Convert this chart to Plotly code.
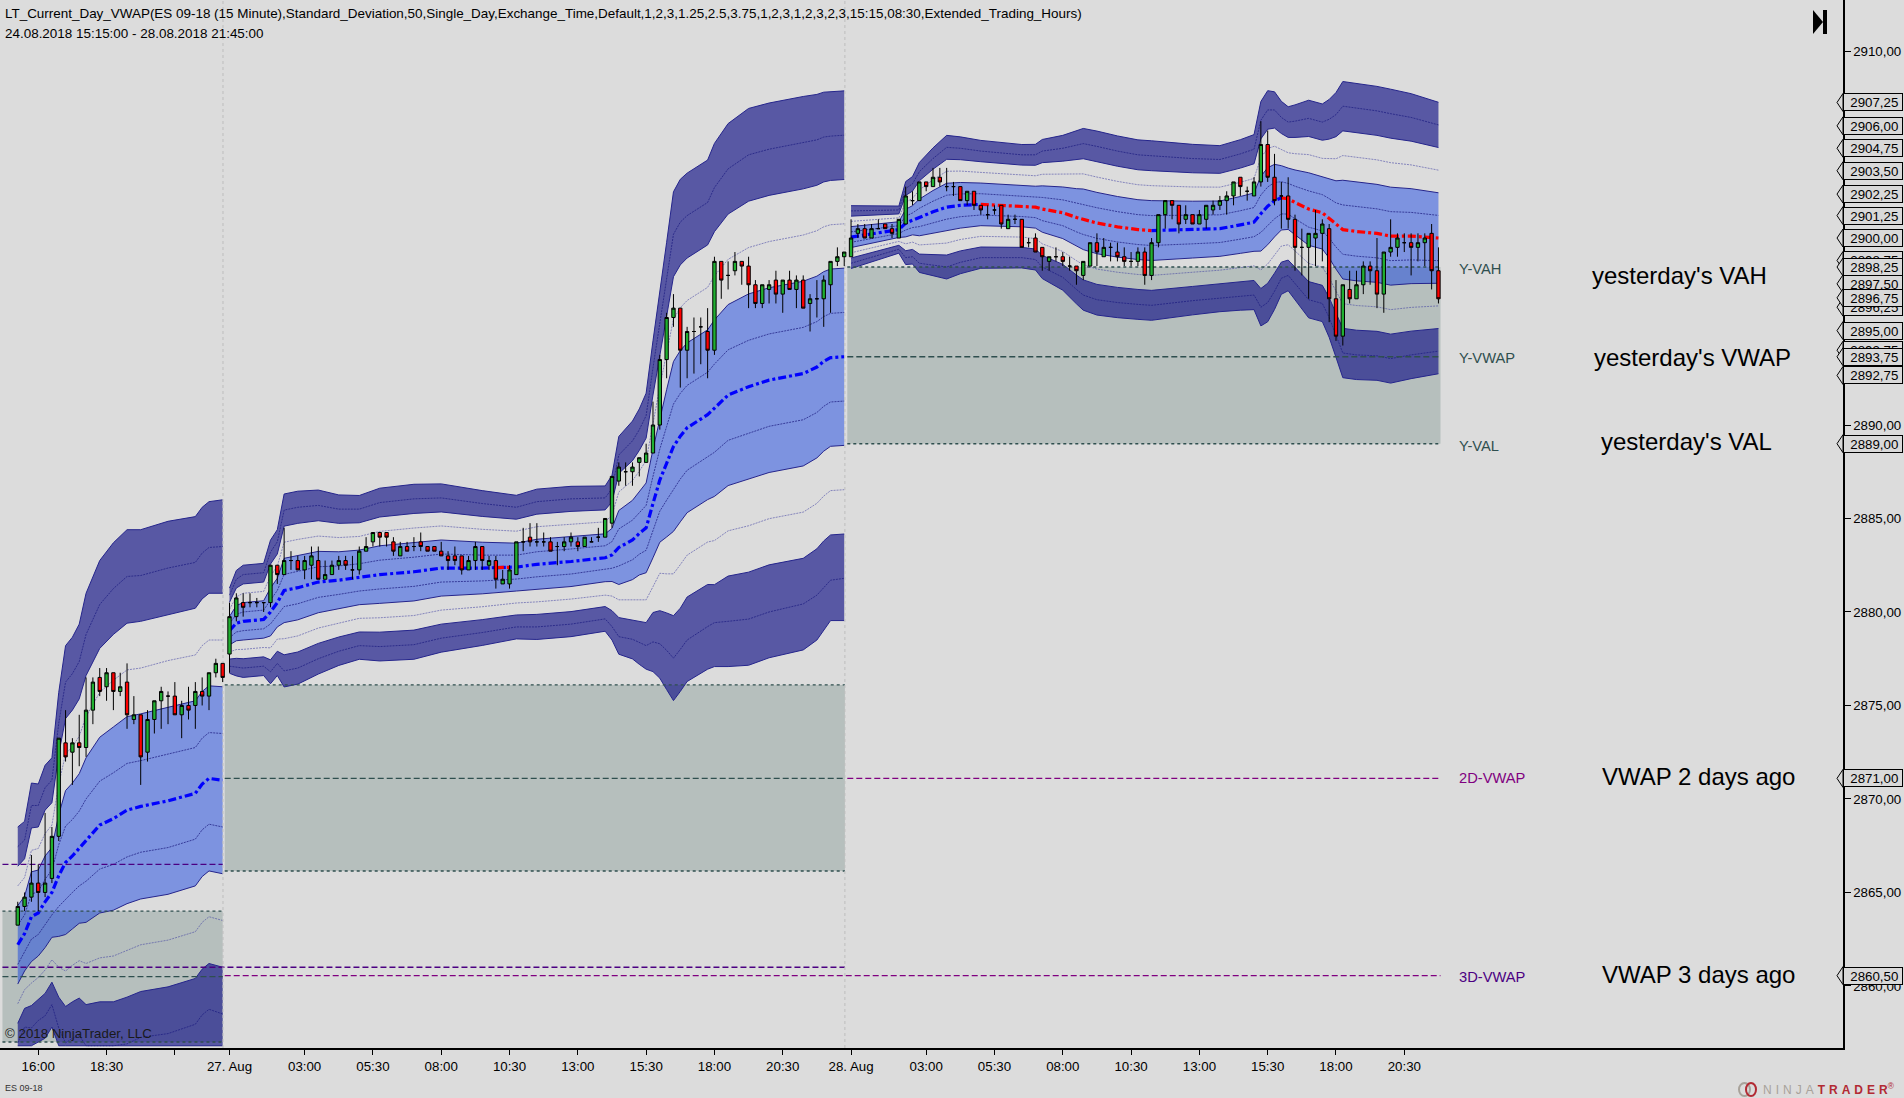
import plotly.graph_objects as go

opens = [2863.25,2864.25,2864.75,2865.5,2865,2865.75,2868,2873,2872.5,2873,
2872.75,2874.75,2876.5,2876,2876.75,2875.75,2876.25,2874.25,2874.5,2872.5,
2874.25,2875.25,2875.5,2875.5,2874.5,2875,2875,2875.75,2875.5,2876.75,2877.25,
2877.75,2879.75,2880.5,2880.5,2880.5,2880.5,2880.5,2882.5,2882,2882.75,
2882.75,2882.25,2882.5,2882.75,2881.75,2882,2882.5,2882.75,2882.25,2882.25,
2883.25,2883.75,2884.25,2884.25,2883.75,2883,2883.5,2883.5,2883.75,2883.5,
2883.5,2883.25,2883,2883,2883,2882.25,2882.75,2883.5,2882.5,2882.75,
2881.5,2881.5,2882,2883.75,2884,2883.75,2883.75,2883.75,2883.5,2883.5,
2883.75,2883.75,2883.5,2883.75,2884,2884,2884.75,2887,2887.5,2887.5,
2888,2888,2888.5,2890,2893.5,2895.75,2896.25,2894,2895,2895.25,
2895,2894,2898.75,2898,2898.25,2898.75,2898.5,2897.5,2896.5,2897.25,
2897.75,2897,2897.75,2897.25,2897.75,2896.5,2896.75,2896.75,2897.5,2898.75,2899,
2899,2900.25,2900.5,2900,2900.5,2900.75,2900.5,2900,2900.75,2902,
2902,2903,2902.75,2903.25,2902.75,2902.75,2902.75,2902,2902.5,2901.75,
2901.25,2901.5,2901.75,2900.5,2901,2901,2899.75,2900,2899.5,2898.75,
2899,2899,2898.5,2898.5,2898,2898.5,2899.75,2899,2899.5,2899.25,
2899,2898.75,2898.75,2899.25,2898,2899.75,2901.25,2902,2901.75,2901,
2901.25,2900.75,2901,2901.5,2901.75,2902,2902.25,2903.25,2902.5,2902.25,
2903,2905,2903.25,2902.25,2902.25,2901,2899.5,2899.5,2900,2900.25,
2900.5,2896.75,2894.75,2897.25,2896.75,2897.5,2898.5,2898.25,2897,2899.25,
2899.5,2899.75,2899.75,2899.5,2899.75,2900.25,2898.25]
highs = [2864.5,2865,2867,2866.5,2869.25,2868.5,2873.25,2874.75,2873.25,2874.5,
2876.5,2876.5,2877,2877,2876.75,2876.75,2877.25,2875.5,2874.5,2874.75,
2875.25,2876,2875.75,2876.25,2875.25,2876,2876.25,2876.5,2876.75,2877.5,2877.25,
2880.5,2881,2881,2881,2880.75,2880.5,2882.5,2882.5,2884.5,2883.25,
2883,2883,2883.5,2883.5,2882.75,2882.75,2883,2883,2883,2883.5,
2884,2884.25,2884.25,2884.25,2884,2883.75,2883.75,2884,2884.25,2883.5,
2883.5,2883.75,2883.25,2883.5,2883,2883,2883.75,2883.5,2883,2883,
2882.25,2882.5,2883.75,2884.5,2884.75,2884.75,2884.25,2884,2883.75,2884,
2884.25,2884,2884,2884,2884.5,2885,2887.25,2888,2888,2888,
2888.25,2889,2891.25,2893.75,2896,2897,2896.25,2895.25,2895.75,2895.75,
2896.25,2899,2898.75,2898.75,2899.25,2898.75,2899,2897.75,2897.5,2897.75,
2898.25,2897.75,2898.25,2898,2898,2897,2897.75,2898,2898.75,2899.5,2899.25,
2901,2900.75,2900.75,2900.75,2901,2900.75,2900.75,2901,2902.75,2902.5,
2903,2903,2903.75,2903.75,2903.75,2903,2902.75,2902.5,2902.5,2901.75,
2901.75,2901.75,2901.75,2901.25,2901.25,2901,2900,2900.25,2899.5,2899,
2899.5,2899.25,2899,2898.5,2898.75,2899.75,2900.25,2900,2899.75,2899.75,
2899.5,2899.25,2899.5,2899.5,2900,2901.25,2902,2902,2901.75,2901.75,
2901.25,2901.5,2901.75,2902,2902.25,2902.5,2903,2903.25,2902.75,2903.25,
2906.25,2905.75,2904.5,2903,2903.25,2901.25,2900.5,2900.25,2901.5,2901,
2900.75,2897.75,2897.5,2898.25,2898.25,2898.75,2898.75,2900,2899.25,2901,
2900.25,2900.25,2900.25,2900.25,2900.25,2900.75,2899.5]
lows = [2863.25,2864,2864.5,2864,2864.75,2865.5,2867.75,2872,2870.75,2871.75,
2872.25,2874,2875.5,2875.25,2874.75,2875.5,2873.75,2874,2870.75,2872,
2873.5,2873.75,2874,2874.5,2873.25,2874.25,2873.75,2875,2874.75,2876.5,2876.25,
2876.75,2879.5,2879.75,2880.25,2880.25,2880,2880.25,2881.5,2882,2882.25,
2882.25,2881.75,2881.75,2881.75,2881.75,2882,2882.25,2882.25,2881.75,2882,
2883.25,2883.5,2883.5,2883.5,2883,2883,2883.25,2883.25,2883.25,2883.25,
2883.25,2883,2882.25,2882.5,2882,2882.25,2882.25,2882.25,2882.25,2881.25,
2881.5,2881.25,2882,2883.25,2883.5,2883.5,2883.5,2883.25,2882.5,2883.25,
2883.5,2883.25,2883.5,2883.75,2883.75,2884,2884.5,2886.75,2886.75,2886.75,
2887.25,2888,2888.5,2889.75,2892.5,2895.25,2892,2892.5,2892.75,2893.25,
2892.5,2893.75,2896.75,2897.25,2898,2897.5,2896.25,2896.25,2896.25,2896.5,
2896.5,2896,2897.25,2896.25,2896.25,2895,2895.75,2895.25,2896,2898.5,2898.5,
2899,2900,2900,2900,2900.5,2900.5,2900,2900,2900.75,2901.75,
2902,2902.5,2902.75,2902.75,2902.5,2902.25,2902,2901.75,2901.5,2901.25,
2901,2901.25,2900.5,2900.5,2900.75,2899.5,2899.5,2899.25,2898.25,2898.25,
2898.75,2898.5,2898.25,2897.5,2897.75,2898.5,2898.5,2899,2898.75,2898.75,
2898.5,2898.5,2898.5,2897.5,2897.75,2899.5,2900.5,2901,2900.25,2900.75,
2900.75,2900.75,2900.5,2901.25,2901.5,2901.25,2901.75,2902.25,2902,2902.25,
2902.75,2903,2901.75,2900.5,2900.5,2898.25,2898,2896.75,2898.5,2898.75,
2895.5,2894.5,2894.25,2896.5,2896.75,2897,2897.5,2896.25,2896,2899,
2899,2899.25,2898,2898.75,2898.5,2897.25,2896.5]
closes = [2864.25,2864.75,2865.5,2865,2865.5,2868,2873.25,2872.25,2873,2872.75,
2874.75,2876.25,2875.75,2876.75,2875.75,2876,2874.5,2874.5,2872.25,2874.25,
2875.25,2875.75,2875.5,2874.5,2875,2874.75,2875.75,2875.5,2876.75,2877.25,2876.5,
2879.75,2880.75,2880.25,2880.5,2880.5,2880.5,2882.5,2882,2882.75,2882.75,
2882.25,2882.75,2883,2881.75,2882,2882.5,2882.75,2882.5,2882.25,2883.25,
2883.5,2884.25,2884,2884,2883.25,2883.5,2883.25,2883.5,2883.5,2883.25,
2883.25,2883,2882.75,2882.75,2882.25,2882.75,2883.5,2882.75,2882.75,2881.75,
2881.75,2882.25,2883.75,2883.75,2883.75,2883.75,2883.75,2883.25,2883.5,2883.75,
2884,2883.5,2884,2883.75,2884,2885,2887.25,2887.75,2887.5,2887.75,
2888.25,2888.5,2890,2893.5,2895.75,2896.25,2894,2895,2895,2895.25,
2894,2898.75,2897.75,2898,2898.75,2898.5,2897.5,2896.5,2897.5,2897.5,
2897,2897.75,2897.25,2897.75,2896.25,2896.75,2896.75,2897.75,2898.75,2899,2899.25,
2900,2900.5,2900,2900.5,2900.5,2900.5,2900.25,2901,2902.25,2902,
2903,2902.75,2903.25,2903,2902.75,2902.75,2902,2902.5,2901.75,2901.5,
2901.25,2901.5,2900.75,2901,2901,2899.5,2899.75,2899.25,2899,2899,
2899,2898.75,2898.5,2898.25,2898.75,2899.75,2899.25,2899.5,2899.5,2899,
2898.75,2898.75,2899.25,2898,2899.75,2901.25,2902,2901.75,2900.75,2901.25,
2900.75,2901.25,2901.75,2901.75,2902,2902.25,2903,2902.75,2902.5,2903,
2905,2903.25,2902,2902.25,2901,2899.5,2899.5,2900.25,2900.25,2900.75,
2896.75,2894.75,2897.5,2896.75,2897.5,2898.5,2898.25,2897,2899.25,2899.5,
2900,2899.75,2899.5,2899.75,2900,2898.25,2896.75]

# session 1: 24 Aug
s1_i = [0,1,2,3,4,5,6,7,8,9,10,12,14,16,18,22,26,27,28,30]
s1_v = [2862.2,2862.8,2863.7,2863.9,2864.5,2865,2865.9,2866.6,2866.95,2867.35,2867.8,2868.6,2868.95,2869.4,2869.6,2869.9,2870.3,2870.8,2871.1,2871]
s1_u1 = [2863.25,2863.8,2864.9,2865.05,2865.7,2866.2,2867.55,2868.55,2868.9,2869.35,2870,2870.95,2871.4,2871.9,2872.05,2872.4,2872.75,2873.25,2873.55,2873.5]
s1_u2 = [2864.3,2864.8,2866.1,2866.2,2866.95,2867.4,2869.15,2870.45,2870.85,2871.35,2872.2,2873.3,2873.85,2874.4,2874.55,2874.9,2875.25,2875.75,2876.05,2876]
s1_u3 = [2865.35,2865.8,2867.25,2867.35,2868.15,2868.6,2870.8,2872.4,2872.8,2873.35,2874.4,2875.7,2876.35,2876.9,2877,2877.4,2877.7,2878.2,2878.5,2878.5]
s1_u4 = [2866.4,2866.8,2868.45,2868.5,2869.4,2869.8,2872.4,2874.3,2874.75,2875.35,2876.6,2878.05,2878.8,2879.4,2879.5,2879.85,2880.2,2880.7,2881,2881]
s1_u5 = [2867.45,2867.8,2869.65,2869.65,2870.6,2871,2874.05,2876.25,2876.7,2877.35,2878.8,2880.4,2881.25,2881.9,2881.95,2882.35,2882.65,2883.15,2883.45,2883.5]
s1_u6 = [2868.5,2868.8,2870.85,2870.8,2871.8,2872.2,2875.7,2878.2,2878.65,2879.35,2881,2882.75,2883.7,2884.4,2884.4,2884.85,2885.1,2885.6,2885.9,2886]
s1_l1 = [2861.15,2861.8,2862.5,2862.75,2863.3,2863.8,2864.25,2864.65,2865,2865.35,2865.6,2866.25,2866.5,2866.9,2867.15,2867.4,2867.85,2868.35,2868.65,2868.5]
s1_l2 = [2860.1,2860.8,2861.3,2861.6,2862.05,2862.6,2862.65,2862.75,2863.05,2863.35,2863.4,2863.9,2864.05,2864.4,2864.65,2864.9,2865.35,2865.85,2866.15,2866]
s1_l3 = [2859.05,2859.8,2860.15,2860.45,2860.85,2861.4,2861,2860.8,2861.1,2861.35,2861.2,2861.5,2861.6,2861.9,2862.2,2862.45,2862.9,2863.4,2863.7,2863.5]
s1_l4 = [2858,2858.8,2858.95,2859.3,2859.6,2860.2,2859.4,2858.9,2859.15,2859.35,2859,2859.15,2859.15,2859.4,2859.7,2859.95,2860.4,2860.9,2861.2,2861]
s1_l5 = [2856.95,2857.8,2857.75,2858.15,2858.4,2859,2857.75,2856.95,2857.2,2857.35,2856.8,2856.8,2856.8,2856.9,2857.25,2857.45,2857.95,2858.45,2858.75,2858.5]
s1_l6 = [2856.8,2856.8,2856.8,2857,2857.2,2857.8,2856.8,2856.8,2856.8,2856.8,2856.8,2856.8,2856.8,2856.8,2856.8,2856.8,2856.8,2856.8,2856.8,2856.8]

# session 2: 27 Aug
s2_i = [31,32,33,36,37,38,39,41,44,47,50,53,58,62,68,73,76,81,86,87,88,90,91,92,93,94,95,96,97,98,101,102,104,107,110,115,117,118,119,121]
s2_v = [2879,2879.4,2879.5,2879.6,2880,2880.5,2881.15,2881.3,2881.6,2881.7,2881.85,2882,2882.15,2882.35,2882.35,2882.4,2882.55,2882.7,2882.9,2883.05,2883.45,2883.85,2884.2,2884.5,2885.8,2887.05,2887.95,2888.85,2889.4,2889.85,2890.55,2890.9,2891.6,2892.05,2892.4,2892.75,2893.1,2893.4,2893.6,2893.65]
s2_u1 = [2879.38,2879.87,2880,2880.1,2880.64,2881.15,2882.01,2882.16,2882.42,2882.46,2882.58,2882.77,2882.93,2883.1,2883.04,2883.04,2883.22,2883.37,2883.54,2883.76,2884.44,2884.91,2885.31,2885.7,2887.25,2888.71,2889.92,2891.12,2891.69,2892.12,2892.82,2893.26,2894.02,2894.53,2894.87,2895.22,2895.53,2895.8,2895.97,2896.02]
s2_u2 = [2879.76,2880.34,2880.5,2880.6,2881.28,2881.8,2882.87,2883.02,2883.24,2883.22,2883.31,2883.54,2883.71,2883.85,2883.73,2883.68,2883.89,2884.04,2884.18,2884.47,2885.43,2885.97,2886.42,2886.9,2888.7,2890.37,2891.89,2893.39,2893.98,2894.39,2895.09,2895.62,2896.44,2897.01,2897.34,2897.69,2897.96,2898.2,2898.34,2898.39]
s2_u3 = [2880.14,2880.81,2881,2881.1,2881.92,2882.45,2883.73,2883.88,2884.06,2883.98,2884.04,2884.31,2884.49,2884.6,2884.42,2884.32,2884.56,2884.71,2884.82,2885.18,2886.42,2887.03,2887.53,2888.1,2890.15,2892.03,2893.86,2895.66,2896.27,2896.66,2897.36,2897.98,2898.86,2899.49,2899.81,2900.16,2900.39,2900.6,2900.71,2900.76]
s2_u4 = [2880.52,2881.28,2881.5,2881.6,2882.56,2883.1,2884.59,2884.74,2884.88,2884.74,2884.77,2885.08,2885.27,2885.35,2885.11,2884.96,2885.23,2885.38,2885.46,2885.89,2887.41,2888.09,2888.64,2889.3,2891.6,2893.69,2895.83,2897.93,2898.56,2898.93,2899.63,2900.34,2901.28,2901.97,2902.28,2902.63,2902.82,2903,2903.08,2903.13]
s2_u5 = [2880.9,2881.75,2882,2882.1,2883.2,2883.75,2885.45,2885.6,2885.7,2885.5,2885.5,2885.85,2886.05,2886.1,2885.8,2885.6,2885.9,2886.05,2886.1,2886.6,2888.4,2889.15,2889.75,2890.5,2893.05,2895.35,2897.8,2900.2,2900.85,2901.2,2901.9,2902.7,2903.7,2904.45,2904.75,2905.1,2905.25,2905.4,2905.45,2905.5]
s2_u6 = [2881.28,2882.22,2882.5,2882.6,2883.84,2884.4,2886.31,2886.46,2886.52,2886.26,2886.23,2886.62,2886.83,2886.85,2886.49,2886.24,2886.57,2886.72,2886.74,2887.31,2889.39,2890.21,2890.86,2891.7,2894.5,2897.01,2899.77,2902.47,2903.14,2903.47,2904.17,2905.06,2906.12,2906.93,2907.22,2907.57,2907.68,2907.8,2907.82,2907.87]
s2_l1 = [2878.62,2878.93,2879,2879.1,2879.36,2879.85,2880.29,2880.44,2880.78,2880.94,2881.12,2881.23,2881.37,2881.6,2881.66,2881.76,2881.88,2882.03,2882.26,2882.34,2882.46,2882.79,2883.09,2883.3,2884.35,2885.39,2885.98,2886.58,2887.11,2887.58,2888.28,2888.54,2889.18,2889.57,2889.93,2890.28,2890.67,2891,2891.23,2891.28]
s2_l2 = [2878.24,2878.46,2878.5,2878.6,2878.72,2879.2,2879.43,2879.58,2879.96,2880.18,2880.39,2880.46,2880.59,2880.85,2880.97,2881.12,2881.21,2881.36,2881.62,2881.63,2881.47,2881.73,2881.98,2882.1,2882.9,2883.73,2884.01,2884.31,2884.82,2885.31,2886.01,2886.18,2886.76,2887.09,2887.46,2887.81,2888.24,2888.6,2888.86,2888.91]
s2_l3 = [2877.86,2877.99,2878,2878.1,2878.08,2878.55,2878.57,2878.72,2879.14,2879.42,2879.66,2879.69,2879.81,2880.1,2880.28,2880.48,2880.54,2880.69,2880.9,2880.85,2880.65,2880.65,2880.65,2880.65,2881.35,2882.07,2882.04,2882.04,2882.53,2883.04,2883.74,2883.82,2884.34,2884.61,2884.99,2885.34,2885.81,2886.2,2886.49,2886.54]
s2_l4 = [2877.48,2877.52,2877.5,2877.6,2877.44,2877.9,2877.71,2877.86,2878.32,2878.66,2878.93,2878.92,2879.03,2879.35,2879.59,2879.84,2879.87,2880.02,2880.29,2880.07,2879.7,2879.58,2879.5,2879.43,2879.97,2880.07,2879.95,2879.8,2880.2,2880.8,2881.47,2881.46,2881.92,2882.13,2882.52,2882.87,2883.38,2883.8,2884.12,2884.17]
s2_l5 = [2877.1,2877.05,2877,2877.1,2876.8,2877.25,2876.85,2877,2877.5,2877.9,2878.2,2878.15,2878.25,2878.6,2878.9,2879.2,2879.2,2879.35,2879.63,2879.22,2878.68,2878.54,2878.37,2878.2,2878.4,2878.3,2877.95,2877.53,2878,2878.5,2879.22,2879.43,2879.5,2879.62,2880,2880.43,2880.9,2881.3,2881.7,2881.8]
s2_l6 = [2876.72,2876.58,2876.5,2876.6,2876.16,2876.6,2875.99,2876.14,2876.68,2877.14,2877.47,2877.38,2877.47,2877.85,2878.21,2878.56,2878.53,2878.68,2878.97,2878.5,2877.74,2877.49,2877.2,2876.94,2876.81,2876.46,2875.85,2875.26,2875.75,2876.28,2876.94,2877.08,2877.08,2877.15,2877.55,2877.97,2878.5,2879,2879.54,2879.54]
s2_red_i = [70,72]
s2_red_v = [2882.37,2882.39]

# session 3: 28 Aug
s3_i = [122,126,129,130,131,132,134,136,138,141,147,149,150,153,155,156,158,161,164,166,172,176,179,181,182,183,184,185,186,187,189,191,192,193,194,196,199,201,204,208]
s3_v = [2900.05,2900.3,2900.45,2900.8,2900.95,2901.1,2901.4,2901.65,2901.75,2901.8,2901.7,2901.65,2901.55,2901.35,2901.1,2901,2900.8,2900.6,2900.45,2900.4,2900.45,2900.5,2900.7,2900.85,2901.3,2901.7,2902,2902.15,2902.1,2901.9,2901.55,2901.35,2901.05,2900.7,2900.45,2900.35,2900.25,2900.1,2900.1,2900]
s3_u1 = [2900.33,2900.54,2900.66,2901.17,2901.34,2901.59,2901.97,2902.29,2902.36,2902.37,2902.25,2902.21,2902.17,2902.04,2901.87,2901.81,2901.62,2901.41,2901.25,2901.2,2901.21,2901.24,2901.46,2901.63,2902.3,2902.73,2902.97,2903.01,2902.92,2902.77,2902.52,2902.32,2902.11,2901.88,2901.77,2901.67,2901.56,2901.41,2901.37,2901.21]
s3_u2 = [2900.61,2900.78,2900.87,2901.54,2901.73,2902.08,2902.54,2902.93,2902.97,2902.94,2902.8,2902.77,2902.79,2902.73,2902.64,2902.62,2902.44,2902.22,2902.05,2902,2901.97,2901.98,2902.22,2902.41,2903.3,2903.76,2903.94,2903.87,2903.74,2903.64,2903.49,2903.29,2903.17,2903.06,2903.09,2902.99,2902.87,2902.72,2902.64,2902.42]
s3_u3 = [2900.89,2901.02,2901.08,2901.91,2902.12,2902.57,2903.11,2903.57,2903.58,2903.51,2903.35,2903.33,2903.41,2903.42,2903.41,2903.43,2903.26,2903.03,2902.85,2902.8,2902.73,2902.72,2902.98,2903.19,2904.3,2904.79,2904.91,2904.73,2904.56,2904.51,2904.46,2904.26,2904.23,2904.24,2904.41,2904.31,2904.18,2904.03,2903.91,2903.63]
s3_u4 = [2901.17,2901.26,2901.29,2902.28,2902.51,2903.06,2903.68,2904.21,2904.19,2904.08,2903.9,2903.89,2904.03,2904.11,2904.18,2904.24,2904.08,2903.84,2903.65,2903.6,2903.49,2903.46,2903.74,2903.97,2905.3,2905.82,2905.88,2905.59,2905.38,2905.38,2905.43,2905.23,2905.29,2905.42,2905.73,2905.63,2905.49,2905.34,2905.18,2904.84]
s3_u5 = [2901.45,2901.5,2901.5,2902.65,2902.9,2903.55,2904.25,2904.85,2904.8,2904.65,2904.45,2904.45,2904.65,2904.8,2904.95,2905.05,2904.9,2904.65,2904.45,2904.4,2904.25,2904.2,2904.5,2904.75,2906.3,2906.85,2906.85,2906.45,2906.2,2906.25,2906.4,2906.2,2906.35,2906.6,2907.05,2906.95,2906.8,2906.65,2906.45,2906.05]
s3_u6 = [2901.73,2901.74,2901.71,2903.02,2903.29,2904.04,2904.82,2905.49,2905.41,2905.22,2905,2905.01,2905.27,2905.49,2905.72,2905.86,2905.72,2905.46,2905.25,2905.2,2905.01,2904.94,2905.26,2905.53,2907.3,2907.88,2907.82,2907.31,2907.02,2907.12,2907.37,2907.17,2907.41,2907.78,2908.37,2908.27,2908.11,2907.96,2907.72,2907.26]
s3_l1 = [2899.77,2900.06,2900.24,2900.43,2900.56,2900.61,2900.83,2901.01,2901.14,2901.23,2901.15,2901.09,2900.93,2900.66,2900.33,2900.19,2899.98,2899.79,2899.65,2899.6,2899.69,2899.76,2899.94,2900.07,2900.3,2900.67,2901.03,2901.29,2901.28,2901.03,2900.58,2900.38,2899.99,2899.52,2899.13,2899.03,2898.94,2898.79,2898.83,2898.79]
s3_l2 = [2899.49,2899.82,2900.03,2900.06,2900.17,2900.12,2900.26,2900.37,2900.53,2900.66,2900.6,2900.53,2900.31,2899.97,2899.56,2899.38,2899.16,2898.98,2898.85,2898.8,2898.93,2899.02,2899.18,2899.29,2899.3,2899.64,2900.06,2900.43,2900.46,2900.16,2899.61,2899.41,2898.93,2898.34,2897.81,2897.71,2897.63,2897.48,2897.56,2897.58]
s3_l3 = [2899.21,2899.58,2899.82,2899.69,2899.78,2899.63,2899.69,2899.73,2899.92,2900.09,2900.05,2899.97,2899.69,2899.28,2898.79,2898.57,2898.34,2898.17,2898.05,2898,2898.17,2898.28,2898.42,2898.51,2898.3,2898.61,2899.09,2899.57,2899.64,2899.29,2898.64,2898.44,2897.87,2897.16,2896.49,2896.39,2896.32,2896.17,2896.29,2896.37]
s3_l4 = [2898.93,2899.34,2899.61,2899.32,2899.39,2899.14,2899.12,2899.09,2899.31,2899.52,2899.5,2899.41,2899.07,2898.59,2898.02,2897.76,2897.52,2897.36,2897.25,2897.2,2897.41,2897.54,2897.66,2897.73,2897.3,2897.58,2898.12,2898.71,2898.82,2898.42,2897.67,2897.47,2896.81,2895.98,2895.17,2895.07,2895.01,2894.86,2895.02,2895.16]
s3_l5 = [2898.65,2899.1,2899.4,2898.95,2899,2898.65,2898.55,2898.45,2898.7,2898.95,2898.95,2898.85,2898.45,2897.9,2897.25,2896.95,2896.7,2896.55,2896.45,2896.4,2896.65,2896.8,2896.9,2896.95,2896.3,2896.55,2897.15,2897.85,2898,2897.55,2896.7,2896.5,2895.75,2894.8,2893.85,2893.75,2893.7,2893.55,2893.75,2893.95]
s3_l6 = [2898.37,2898.86,2899.19,2898.58,2898.61,2898.16,2897.98,2897.81,2898.09,2898.38,2898.4,2898.29,2897.83,2897.21,2896.48,2896.14,2895.88,2895.74,2895.65,2895.6,2895.89,2896.06,2896.14,2896.17,2895.3,2895.52,2896.18,2896.99,2897.18,2896.68,2895.73,2895.53,2894.69,2893.62,2892.53,2892.43,2892.39,2892.24,2892.48,2892.74]

# value-area zones of the previous day
zone_start = [-2.24, 30.3, 121.45]
zone_end = [30.0, 121.1, 208.3]
zone_val = [2857.0, 2866.15, 2889.0]
zone_vwap = [2860.5, 2871.1, 2893.65]
zone_vah = [2864.0, 2876.1, 2898.45]

# older VWAP levels
older_start = [-2.24, -2.24, 30.3, 121.45]
older_end = [30.0, 121.1, 208.3, 208.3]
older_level = [2866.5, 2861.0, 2860.55, 2871.1]
older_color = ["#4B0082", "#4B0082", "#800080", "#800080"]

session_breaks = [30.05, 121.1]

x_tick_bars = [3,13,23,31,42,52,62,72,82,92,102,112,122,133,143,153,163,173,183,193,203]
x_tick_text = ["16:00","18:30","","27. Aug","03:00","05:30","08:00","10:30","13:00","15:30","18:00","20:30",
               "28. Aug","03:00","05:30","08:00","10:30","13:00","15:30","18:00","20:30"]
y_tick_vals = [2860,2865,2870,2875,2880,2885,2890,2895,2900,2905,2910]
y_tick_text = ["2860,00","2865,00","2870,00","2875,00","2880,00","2885,00","2890,00","2895,00","2900,00","2905,00","2910,00"]
price_tags = [2907.25,2906.0,2904.8,2903.6,2902.35,2901.2,2900.0,2898.8,2898.45,2897.55,2896.3,
              2896.8,2895.05,2894.0,2893.65,2892.65,2889.0,2871.1,2860.55]
tag_text = ["2907,25","2906,00","2904,75","2903,50","2902,25","2901,25","2900,00","2898,75","2898,25","2897,50","2896,25",
            "2896,75","2895,00","2893,75","2893,75","2892,75","2889,00","2871,00","2860,50"]

for arr in (opens, highs, lows, closes):
    assert len(arr) == 209, len(arr)

W, H = 1904, 1098
PLOT_R, PLOT_B = 1843, 1048
X_RANGE = [-2.6, 267.23]
Y_RANGE = [2856.68, 2912.73]
FONT = "Liberation Sans"
BG = "#DCDCDC"
DARK = "rgba(20,20,135,0.66)"
LIGHT = "rgba(0,50,230,0.43)"
EDGE = "#25258C"
THIN = "rgba(30,30,130,0.75)"
THIN_GAP = "rgba(60,60,160,0.55)"
ZONE = "#B6BFBD"
SLATE = "#2F4F4F"

fig = go.Figure()
nohover = dict(hoverinfo="skip", showlegend=False, mode="lines")


def band(x, low, high, color):
    fig.add_trace(go.Scatter(x=x, y=low, line=dict(color=EDGE, width=1), **nohover))
    fig.add_trace(go.Scatter(x=x, y=high, fill="tonexty", fillcolor=color, line=dict(color=EDGE, width=1), **nohover))


def thin(x, y, color):
    fig.add_trace(go.Scatter(x=x, y=y, line=dict(color=color, width=1, dash="2px,1px"), **nohover))


def vwap(x, y, color):
    fig.add_trace(go.Scatter(x=x, y=y, line=dict(color=color, width=3.2, dash="8px,3px,3px,3px"), **nohover))


def level(a, b, y, color, dash, width=1.4):
    fig.add_trace(go.Scatter(x=[a, b], y=[y, y], line=dict(color=color, width=width, dash=dash), **nohover))


# zones
for a, b, lo, hi in zip(zone_start, zone_end, zone_val, zone_vah):
    fig.add_trace(go.Scatter(x=[a, b], y=[lo, lo], line=dict(width=0), **nohover))
    fig.add_trace(go.Scatter(x=[a, b], y=[hi, hi], fill="tonexty", fillcolor=ZONE, line=dict(width=0), **nohover))

# bands
sessions = [
    (s1_i, s1_v, s1_u1, s1_u2, s1_u3, s1_u4, s1_u5, s1_u6, s1_l1, s1_l2, s1_l3, s1_l4, s1_l5, s1_l6),
    (s2_i, s2_v, s2_u1, s2_u2, s2_u3, s2_u4, s2_u5, s2_u6, s2_l1, s2_l2, s2_l3, s2_l4, s2_l5, s2_l6),
    (s3_i, s3_v, s3_u1, s3_u2, s3_u3, s3_u4, s3_u5, s3_u6, s3_l1, s3_l2, s3_l3, s3_l4, s3_l5, s3_l6),
]
for s in sessions:
    for arr in s:
        assert len(arr) == len(s[0])
    i_, v_, u1, u2, u3, u4, u5, u6, l1, l2, l3, l4, l5, l6 = s
    band(i_, l2, u2, LIGHT)
    band(i_, u4, u6, DARK)
    band(i_, l6, l4, DARK)
    thin(i_, u1, THIN)
    thin(i_, l1, THIN)
    thin(i_, u5, THIN)
    thin(i_, l5, THIN)
    thin(i_, u3, THIN_GAP)
    thin(i_, l3, THIN_GAP)

# VWAP lines
vwap(s1_i, s1_v, "#0000FF")
vwap(s2_i, s2_v, "#0000FF")
vwap(s2_red_i, s2_red_v, "#FF0000")
cut1, cut2, cut3 = s3_i.index(141), s3_i.index(166), s3_i.index(185)
vwap(s3_i[:cut1 + 1], s3_v[:cut1 + 1], "#0000FF")
vwap(s3_i[cut1:cut2 + 1], s3_v[cut1:cut2 + 1], "#FF0000")
vwap(s3_i[cut2:cut3 + 1], s3_v[cut2:cut3 + 1], "#0000FF")
vwap(s3_i[cut3:], s3_v[cut3:], "#FF0000")

# levels
for a, b, val, vw, vah in zip(zone_start, zone_end, zone_val, zone_vwap, zone_vah):
    level(a, b, val, SLATE, "dot")
    level(a, b, vah, SLATE, "dot")
    level(a, b, vw, SLATE, "6px,3px")
for a, b, y, c in zip(older_start, older_end, older_level, older_color):
    level(a, b, y, c, "6px,3px")
for b in session_breaks:
    fig.add_trace(go.Scatter(x=[b, b], y=Y_RANGE, line=dict(color="#BDBDBD", width=1, dash="3px,3px"), **nohover))

# candles on an overlaid subplot so that they sit above the bands
fig.add_trace(go.Candlestick(
    x=list(range(len(opens))), open=opens, high=highs, low=lows, close=closes,
    xaxis="x2", yaxis="y2", hoverinfo="skip", showlegend=False,
    increasing=dict(fillcolor="#20B030", line=dict(color="#000000", width=1)),
    decreasing=dict(fillcolor="#FF0000", line=dict(color="#000000", width=1)),
))


def px(x):
    return x / PLOT_R


def py(y):
    return 1 - y / PLOT_B


annotations = []


def text_px(x, y, text, size, color="#000000", anchor="left"):
    annotations.append(dict(x=px(x), y=py(y), xref="paper", yref="paper", text=text, showarrow=False,
                            xanchor=anchor, yanchor="middle", align="left",
                            font=dict(family=FONT, size=size, color=color)))


text_px(3, 13, "LT_Current_Day_VWAP(ES 09-18 (15 Minute),Standard_Deviation,50,Single_Day,Exchange_Time,Default,"
               "1,2,3,1.25,2.5,3.75,1,2,3,1,2,3,2,3,15:15,08:30,Extended_Trading_Hours)", 13.45)
text_px(3, 33.5, "24.08.2018 15:15:00 - 28.08.2018 21:45:00", 13.45)
text_px(3, 1033, "© 2018 NinjaTrader, LLC", 13.3, "#1a1a1a")
text_px(3, 1088, "ES 09-18", 9, "#333333")

for t, y, c in [("Y-VAH", 269, SLATE), ("Y-VWAP", 358, SLATE), ("Y-VAL", 446, SLATE),
                ("2D-VWAP", 778, "#800080"), ("3D-VWAP", 977, "#4B0082")]:
    text_px(1457, y, t, 14.7, c)
for t, x, y in [("yesterday's VAH", 1589.5, 276), ("yesterday's VWAP", 1591.5, 358), ("yesterday's VAL", 1598.5, 441.5),
                ("VWAP 2 days ago", 1599.5, 776.5), ("VWAP 3 days ago", 1599.5, 974.5)]:
    text_px(x, y, t, 24)

gap = "\u2004"
ninja = gap.join("NINJA")
trader = gap.join("TRADER")
text_px(1761, 1089, f'<span style="color:#A8A29A">{ninja}{gap}</span><b style="color:#B22A33">{trader}</b>'
                    f'<span style="color:#B22A33"><sup>®</sup></span>', 12)

for val, txt in zip(price_tags, tag_text):
    annotations.append(dict(x=1, y=val, xref="paper", yref="y", text=txt + "\u00a0", showarrow=False,
                            xanchor="left", yanchor="middle", align="right", width=58, height=16,
                            bgcolor="#D9D9D9", bordercolor="#000000", borderwidth=1, borderpad=0,
                            font=dict(family=FONT, size=13.3, color="#000000")))

shapes = []
pts_per_px = (Y_RANGE[1] - Y_RANGE[0]) / PLOT_B
for val in price_tags:
    dy = 9 * pts_per_px
    path = (f"M {px(1843)},{val + dy} L {px(1837)},{val} L {px(1843)},{val - dy} Z")
    shapes.append(dict(type="path", xref="paper", yref="y", path=path, fillcolor="#D9D9D9",
                       line=dict(color="#000000", width=1), layer="above"))
# end-of-chart button
shapes.append(dict(type="path", xref="paper", yref="paper", fillcolor="#000000", line=dict(width=0),
                   path=f"M {px(1813)},{py(10)} L {px(1823)},{py(22)} L {px(1813)},{py(34)} Z"))
shapes.append(dict(type="rect", xref="paper", yref="paper", fillcolor="#000000", line=dict(width=0),
                   x0=px(1823), x1=px(1827), y0=py(10), y1=py(34)))
# logo mark
shapes.append(dict(type="circle", xref="paper", yref="paper", line=dict(color="#A8A29A", width=2),
                   x0=px(1739), x1=px(1750), y0=py(1083), y1=py(1096)))
shapes.append(dict(type="circle", xref="paper", yref="paper", line=dict(color="#B22A33", width=2),
                   x0=px(1746), x1=px(1756), y0=py(1083), y1=py(1096)))

axis_font = dict(family=FONT, size=13.3, color="#000000")
fig.update_layout(
    width=W, height=H, margin=dict(l=0, r=W - PLOT_R, t=0, b=H - PLOT_B, pad=0),
    paper_bgcolor=BG, plot_bgcolor=BG, showlegend=False, hovermode=False,
    annotations=annotations, shapes=shapes,
    xaxis=dict(range=X_RANGE, showgrid=False, zeroline=False, showline=True, linecolor="#000000", linewidth=1.5,
               ticks="outside", ticklen=5, tickcolor="#000000", tickvals=x_tick_bars, ticktext=x_tick_text,
               tickfont=axis_font, tickangle=0, ticklabelstandoff=1),
    yaxis=dict(range=Y_RANGE, side="right", showgrid=False, zeroline=False, showline=True, linecolor="#000000",
               linewidth=1.5, ticks="outside", ticklen=6, tickcolor="#000000", tickvals=y_tick_vals,
               ticktext=y_tick_text, tickfont=axis_font),
    xaxis2=dict(range=X_RANGE, overlaying="x", visible=False, rangeslider=dict(visible=False)),
    yaxis2=dict(range=Y_RANGE, overlaying="y", visible=False),
)

fig.write_html("out.html", config=dict(displayModeBar=False, staticPlot=True),
               post_script="document.body.style.margin='0';document.documentElement.style.overflow='hidden';")
